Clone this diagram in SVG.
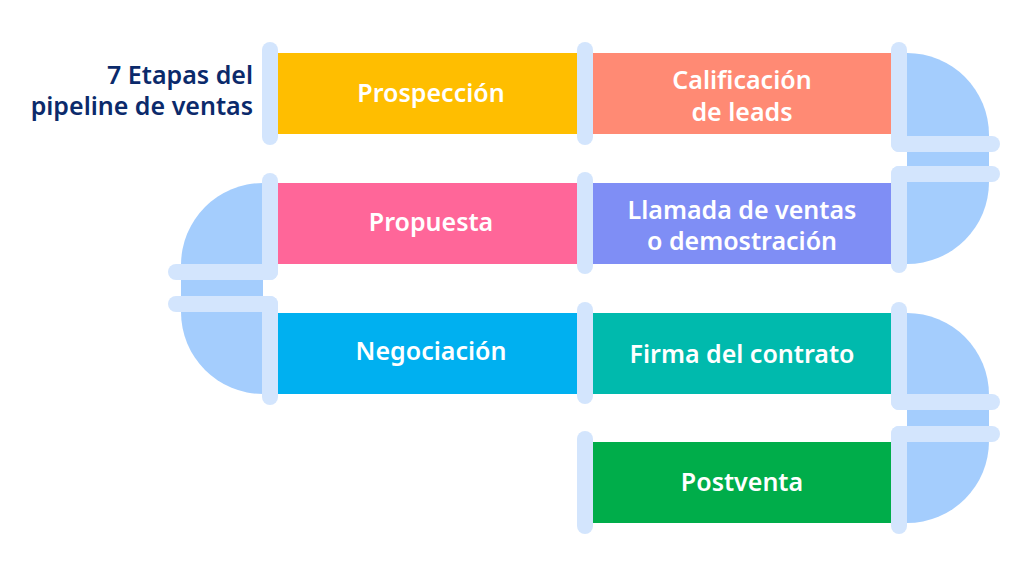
<svg xmlns="http://www.w3.org/2000/svg" width="1023" height="576" viewBox="0 0 1023 576">
<style>
.lbl{font-family:"Noto Sans","Open Sans",sans-serif;font-weight:600;font-size:25px;fill:#ffffff;text-anchor:middle}
.ttl{font-family:"Noto Sans","Open Sans",sans-serif;font-weight:600;font-size:25px;fill:#0B2A6B;text-anchor:end}
.elbow{fill:#A4CDFD}
.collar{fill:#D3E5FD}
</style>
<rect width="1023" height="576" fill="#ffffff"/>
<g id="title">
<text class="ttl" x="253" y="84">7 Etapas del</text>
<text class="ttl" x="253" y="115">pipeline de ventas</text>
</g>
<g id="connectors">
<path class="elbow" d="M907 53 A82 82 0 0 1 989 135 L989 182 A82 82 0 0 1 907 264 Z"/>
<path class="elbow" d="M263 183 A82 82 0 0 0 181 265 L181 312 A82 82 0 0 0 263 394 Z"/>
<path class="elbow" d="M907 313 A82 82 0 0 1 989 395 L989 441 A82 82 0 0 1 907 523 Z"/>
</g>
<g id="node-prospeccion">
<rect x="277" y="53" width="300" height="81" fill="#FFBE00"/>
<text class="lbl" x="431" y="102">Prospección</text>
</g>
<g id="node-calificacion">
<rect x="592" y="53" width="300" height="81" fill="#FF8A74"/>
<text class="lbl" x="742" y="89">Calificación</text>
<text class="lbl" x="742" y="121">de leads</text>
</g>
<g id="node-propuesta">
<rect x="277" y="183" width="300" height="81" fill="#FF6699"/>
<text class="lbl" x="431" y="231">Propuesta</text>
</g>
<g id="node-llamada">
<rect x="592" y="183" width="300" height="81" fill="#7F8EF5"/>
<text class="lbl" x="742" y="219">Llamada de ventas</text>
<text class="lbl" x="742" y="250">o demostración</text>
</g>
<g id="node-negociacion">
<rect x="277" y="313" width="300" height="81" fill="#00B0F0"/>
<text class="lbl" x="431" y="360">Negociación</text>
</g>
<g id="node-firma">
<rect x="592" y="313" width="300" height="81" fill="#00BAAD"/>
<text class="lbl" x="742" y="363">Firma del contrato</text>
</g>
<g id="node-postventa">
<rect x="592" y="442" width="300" height="81" fill="#00AD4A"/>
<text class="lbl" x="742" y="491">Postventa</text>
</g>
<g id="collars">
<rect class="collar" x="262" y="42" width="16" height="103" rx="8"/>
<rect class="collar" x="577" y="42" width="16" height="103" rx="8"/>
<rect class="collar" x="891" y="42" width="16" height="110" rx="8"/>
<rect class="collar" x="891" y="136" width="109" height="16" rx="8"/>
<rect class="collar" x="891" y="166" width="109" height="16" rx="8"/>
<rect class="collar" x="891" y="166" width="16" height="107" rx="8"/>
<rect class="collar" x="577" y="172" width="16" height="102" rx="8"/>
<rect class="collar" x="262" y="173" width="16" height="107" rx="8"/>
<rect class="collar" x="168" y="264" width="110" height="16" rx="8"/>
<rect class="collar" x="168" y="296" width="110" height="16" rx="8"/>
<rect class="collar" x="262" y="296" width="16" height="109" rx="8"/>
<rect class="collar" x="577" y="302" width="16" height="102" rx="8"/>
<rect class="collar" x="891" y="302" width="16" height="108" rx="8"/>
<rect class="collar" x="891" y="394" width="109" height="16" rx="8"/>
<rect class="collar" x="891" y="426" width="109" height="16" rx="8"/>
<rect class="collar" x="891" y="426" width="16" height="108" rx="8"/>
<rect class="collar" x="577" y="431" width="16" height="103" rx="8"/>
</g>
</svg>
